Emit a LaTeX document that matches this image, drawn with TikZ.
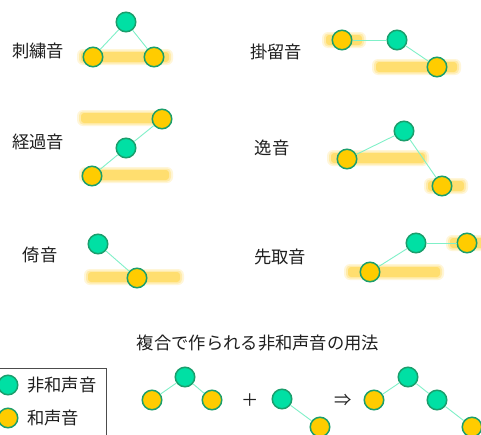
\documentclass[tikz,border=0pt]{standalone}
\usepackage{fontspec}
\setmainfont{Noto Sans CJK JP}
\begin{document}
\begin{tikzpicture}[x=1pt,y=-1pt,
  nh/.style={circle,draw=ringc,fill=greenc,line width=1.5pt,minimum size=19.5pt,inner sep=0pt},
  ch/.style={circle,draw=ringc,fill=yellowc,line width=1.5pt,minimum size=19.5pt,inner sep=0pt},
  conn/.style={draw=linec,line width=0.9pt},
  lbl/.style={font=\fontsize{17.3}{20}\selectfont,inner sep=0pt,text=black!88}]
\definecolor{greenc}{HTML}{00E0A4}
\definecolor{ringc}{HTML}{1A9E6C}
\definecolor{yellowc}{HTML}{FFCC00}
\definecolor{linec}{HTML}{80F0C8}
\definecolor{barc}{HTML}{FFD440}
\newcommand\glowbar[3]{%
  \fill[barc,opacity=0.2,rounded corners=6pt] (#1-1,#3-8) rectangle (#2+1,#3+8);
  \fill[barc,opacity=0.3,rounded corners=4pt] (#1+1,#3-6.5) rectangle (#2-1,#3+6.5);
  \fill[barc,opacity=0.55,rounded corners=3pt] (#1+3,#3-5) rectangle (#2-3,#3+5);}
\useasboundingbox (0,0) rectangle (481,434);
\fill[white] (0,0) rectangle (481,434);
% glow bars
\glowbar{78}{172}{57}
\glowbar{323}{365}{40}
\glowbar{373}{460}{67}
\glowbar{78}{170}{118}
\glowbar{80}{172}{175}
\glowbar{328}{428}{158}
\glowbar{425}{467}{186}
\glowbar{85}{183}{277}
\glowbar{345}{443}{272}
\glowbar{447}{490}{243}
% labels
\node[lbl] (t1) at (38,51) {刺繍音};
\node[lbl] (t2) at (276,52) {掛留音};
\node[lbl] (t3) at (38,142) {経過音};
\node[lbl] (t4) at (272,148) {逸音};
\node[lbl] (t5) at (40,255) {倚音};
\node[lbl] (t6) at (280,257) {先取音};
\node[lbl] (title) at (258,343) {複合で作られる非和声音の用法};
% 刺繍音
\node[nh] (a1) at (126,22) {};
\node[ch] (a2) at (93,57) {};
\node[ch] (a3) at (154,57) {};
\draw[conn] (a1) -- (a2); \draw[conn] (a1) -- (a3);
% 掛留音
\node[ch] (b1) at (342,40) {};
\node[nh] (b2) at (397,40) {};
\node[ch] (b3) at (437,67) {};
\draw[conn] (b1) -- (b2); \draw[conn] (b2) -- (b3);
% 経過音
\node[ch] (c1) at (162,119) {};
\node[nh] (c2) at (126,148) {};
\node[ch] (c3) at (92,176) {};
\draw[conn] (c1) -- (c2); \draw[conn] (c2) -- (c3);
% 逸音
\node[ch] (d1) at (347,159) {};
\node[nh] (d2) at (404,131) {};
\node[ch] (d3) at (442,186) {};
\draw[conn] (d1) -- (d2); \draw[conn] (d2) -- (d3);
% 倚音
\node[nh] (e1) at (98,244) {};
\node[ch] (e2) at (137,278) {};
\draw[conn] (e1) -- (e2);
% 先取音
\node[ch] (f1) at (370,272) {};
\node[nh] (f2) at (416,243) {};
\node[ch] (f3) at (467,243) {};
\draw[conn] (f1) -- (f2); \draw[conn] (f2) -- (f3);
% legend
\node[draw=black!70,line width=0.7pt,minimum width=110pt,minimum height=80pt,inner sep=0pt] (leg) at (51,408) {};
\node[nh] (lg1) at (8,385) {};
\node[ch] (lg2) at (8,418) {};
\node[lbl,anchor=west] (lt1) at (27,385) {非和声音};
\node[lbl,anchor=west] (lt2) at (27,418) {和声音};
% bottom
\node[ch] (g1) at (152,400) {};
\node[nh] (g2) at (185,377) {};
\node[ch] (g3) at (212,400) {};
\draw[conn] (g1) -- (g2); \draw[conn] (g2) -- (g3);
\node[lbl] (plus) at (250,400) {＋};
\node[nh] (h1) at (282,399) {};
\node[ch] (h2) at (320,427) {};
\draw[conn] (h1) -- (h2);
\node[lbl] (arr) at (343,400) {⇒};
\node[ch] (k1) at (374,400) {};
\node[nh] (k2) at (408,377) {};
\node[nh] (k3) at (437,400) {};
\node[ch] (k4) at (472,427) {};
\draw[conn] (k1) -- (k2); \draw[conn] (k2) -- (k3); \draw[conn] (k3) -- (k4);
\end{tikzpicture}
\end{document}
